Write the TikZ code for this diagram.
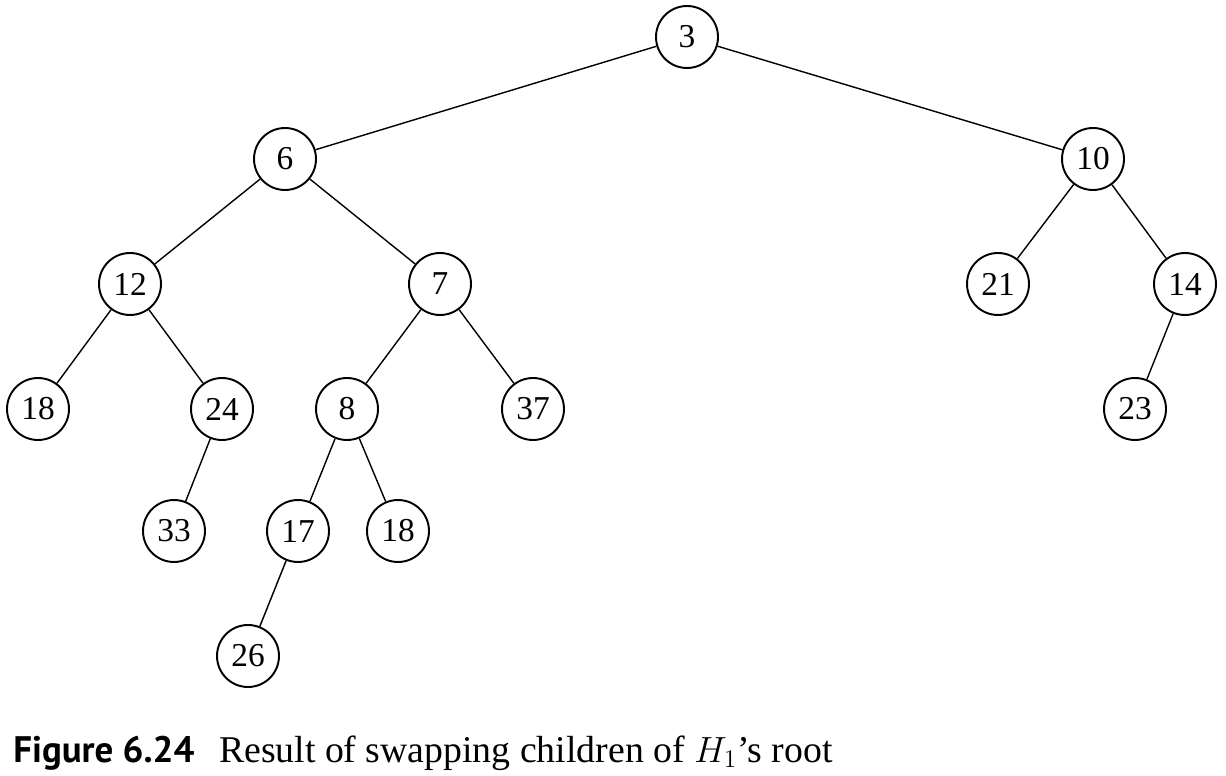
\documentclass[tikz,border=0pt]{standalone}
\usepackage{fontspec}
\setmainfont{Liberation Serif}
\newfontfamily\capsans{PT Sans}
\usepackage{tikz}

\begin{document}
\begin{tikzpicture}[x=0.02cm, y=-0.02cm,
    heapnode/.style={circle, draw, line width=1.1pt, minimum size=1.24cm, inner sep=0pt, font=\fontsize{19}{22}\selectfont},
    heapedge/.style={line width=0.8pt}]
    \useasboundingbox (0,0) rectangle (1226,776);

    % Nodes of the heap after the swap
    \node[heapnode] (n3)  at (687, 37)  {3};
    \node[heapnode] (n6)  at (285, 159) {6};
    \node[heapnode] (n10) at (1093, 159) {10};
    \node[heapnode] (n12) at (130, 284) {12};
    \node[heapnode] (n7)  at (440, 284) {7};
    \node[heapnode] (n21) at (998, 284) {21};
    \node[heapnode] (n14) at (1185, 284) {14};
    \node[heapnode] (n18a) at (38, 409) {18};
    \node[heapnode] (n24) at (222, 409) {24};
    \node[heapnode] (n8)  at (347, 409) {8};
    \node[heapnode] (n37) at (533, 409) {37};
    \node[heapnode] (n23) at (1135, 409) {23};
    \node[heapnode] (n33) at (174, 531) {33};
    \node[heapnode] (n17) at (298, 531) {17};
    \node[heapnode] (n18b) at (398, 531) {18};
    \node[heapnode] (n26) at (248, 656) {26};

    % Edges
    \draw[heapedge] (n3) -- (n6);
    \draw[heapedge] (n3) -- (n10);
    \draw[heapedge] (n6) -- (n12);
    \draw[heapedge] (n6) -- (n7);
    \draw[heapedge] (n10) -- (n21);
    \draw[heapedge] (n10) -- (n14);
    \draw[heapedge] (n12) -- (n18a);
    \draw[heapedge] (n12) -- (n24);
    \draw[heapedge] (n7) -- (n8);
    \draw[heapedge] (n7) -- (n37);
    \draw[heapedge] (n14) -- (n23);
    \draw[heapedge] (n24) -- (n33);
    \draw[heapedge] (n8) -- (n17);
    \draw[heapedge] (n8) -- (n18b);
    \draw[heapedge] (n17) -- (n26);

    % Caption
    \node[anchor=base west, inner sep=0pt, font=\fontsize{21.5}{24}\selectfont] (caption) at (13, 762)
        {{\capsans\fontsize{21}{24}\selectfont\bfseries Figure 6.24}\hspace{0.65em}Result of swapping children of $H_1$'s root};
\end{tikzpicture}
\end{document}
